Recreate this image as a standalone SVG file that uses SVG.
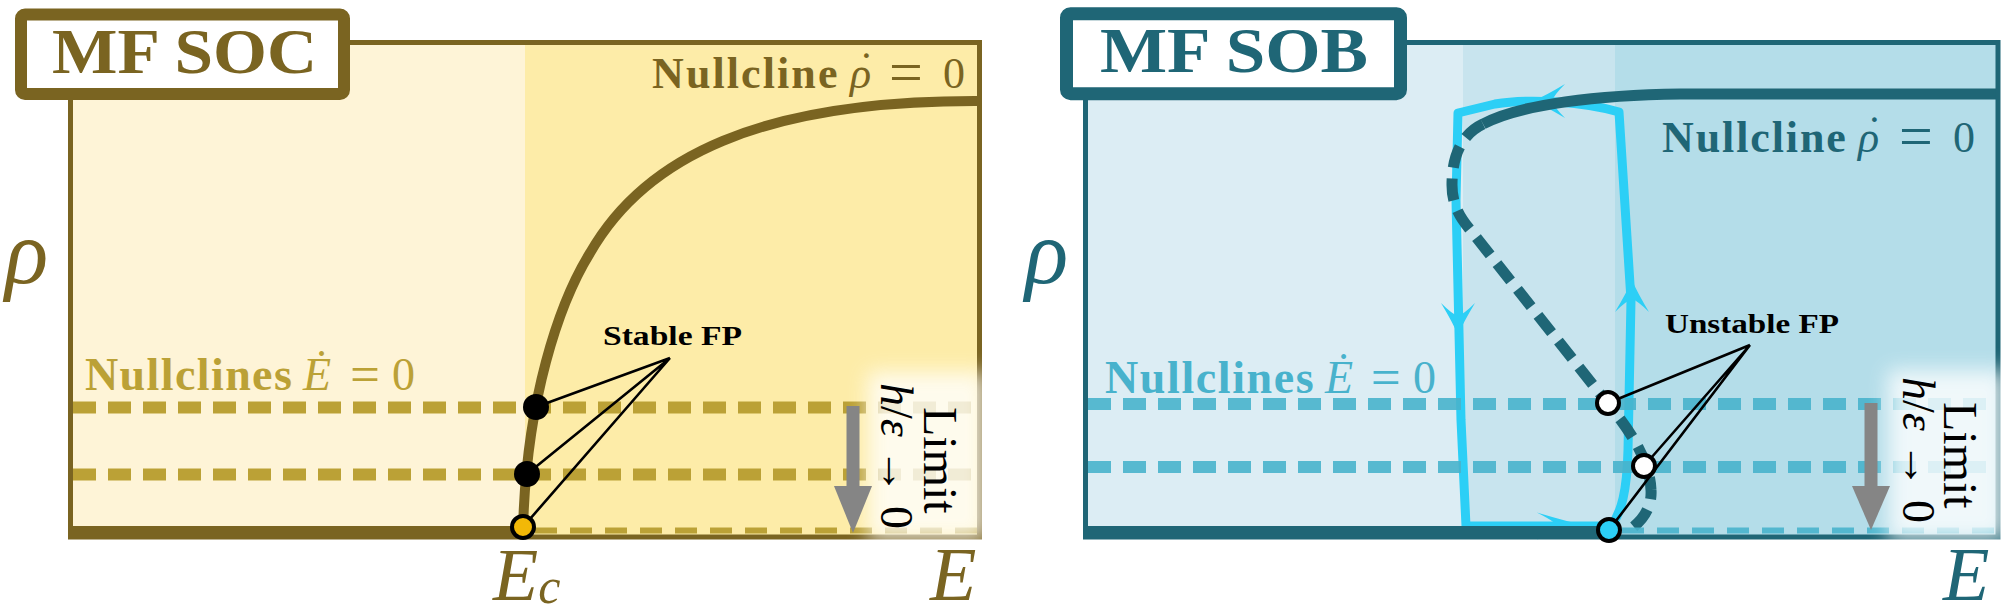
<svg xmlns="http://www.w3.org/2000/svg" width="2008" height="612" viewBox="0 0 2008 612">
<defs>
<style>
.t{font-family:"Liberation Serif","Times New Roman",serif}
.it{font-style:italic}
.up{font-style:normal}
.bd{font-weight:bold}
.olive{fill:#7a6421}
.teal{fill:#1f6676}
.gold{fill:#bba136}
.aqua{fill:#48b2cc}
.frameS{fill:none;stroke:#7a6421;stroke-width:5}
.frameB{fill:none;stroke:#1f6676;stroke-width:5}
.dS{fill:none;stroke:#bba136;stroke-width:12;stroke-dasharray:23 12}
.dSb{fill:none;stroke:#bba136;stroke-width:6;stroke-dasharray:22 13}
.dB{fill:none;stroke:#48b2cc;stroke-width:12;stroke-dasharray:23 12;opacity:.9}
.dBb{fill:none;stroke:#48b2cc;stroke-width:6;stroke-dasharray:22 13;opacity:.9}
.ptr{fill:none;stroke:#000;stroke-width:2.6}
.gray{fill:#858585}
.glow{fill:#fff;opacity:.8}
</style>
<filter id="blur" x="-50%" y="-50%" width="200%" height="200%"><feGaussianBlur stdDeviation="10"/></filter>
<path id="ah" d="M0,0 Q-12,-5 -32,-17 Q-21,-6 -19,0 Q-21,6 -32,17 Q-12,5 0,0 Z"/>
</defs>
<rect width="2008" height="612" fill="#ffffff"/>

<g id="panel-soc">
  <rect x="70" y="42.5" width="455" height="494.5" fill="#fef4d7"/>
  <rect x="525" y="42.5" width="455" height="494.5" fill="#fdeca8"/>
  <path class="frameS" d="M344,42.5 H979.5 V537 H70.5 V94"/>
  <g id="soc-rho-nullcline">
    <path d="M70,531 H523 C526,400 559,303 590,253 C644.5,157.4 760,100 980,101" fill="none" stroke="#7a6421" stroke-width="10" stroke-linejoin="round"/>
  </g>
  <g id="soc-E-nullclines">
    <path class="dS" d="M73,407.5 H978"/>
    <path class="dS" d="M73,474.5 H978"/>
    <path class="dSb" d="M535,530.5 H978"/>
  </g>
  <rect class="glow" x="868" y="372" width="118" height="168" filter="url(#blur)"/>
  <g id="soc-limit-arrow">
    <rect class="gray" x="846.5" y="406" width="13" height="84"/>
    <polygon class="gray" points="834,486 872,486 853,533"/>
  </g>
  <g id="soc-title">
    <rect x="21" y="14.5" width="323" height="79.5" rx="4" fill="#ffffff" stroke="#7a6421" stroke-width="12"/>
    <text class="t bd olive" x="52" y="73" font-size="64" textLength="265" lengthAdjust="spacingAndGlyphs">MF SOC</text>
  </g>
  <g id="soc-pointers">
    <path class="ptr" d="M670,358 L536,407 M670,358 L527,474 M670,358 L523,527"/>
    <circle cx="536" cy="407" r="13" fill="#000"/>
    <circle cx="527" cy="474" r="13" fill="#000"/>
    <circle cx="523" cy="527" r="11" fill="#f2b807" stroke="#000" stroke-width="4"/>
    <text class="t bd" x="603" y="345" font-size="28" textLength="139" lengthAdjust="spacingAndGlyphs" fill="#000">Stable FP</text>
  </g>
  <text id="soc-rho-label" class="t olive" font-size="44"><tspan class="bd" x="652" y="88" letter-spacing="2.1">Nullcline</tspan><tspan class="it" x="850" y="88">ρ</tspan><tspan x="859" y="83">˙</tspan><tspan x="889" y="92" font-size="60">=</tspan><tspan x="943" y="88">0</tspan></text>
  <text id="soc-E-label" class="t gold" font-size="46"><tspan class="bd" x="85" y="390" letter-spacing="1.4">Nullclines</tspan><tspan class="it" x="303" y="390">Ė</tspan><tspan x="350" y="392" font-size="53">=</tspan><tspan x="392" y="390">0</tspan></text>
  <text class="t it olive" x="5" y="283" font-size="90">ρ</text>
  <text class="t it olive" x="493" y="600" font-size="74">E<tspan font-size="50" dy="3">c</tspan></text>
  <text class="t it olive" x="930" y="600" font-size="76">E</text>
  <g id="soc-limit-text">
    <text class="t" transform="translate(924,407) rotate(90)" font-size="48" fill="#000">Limit</text>
    <text class="t" transform="translate(881,383) rotate(90)" font-size="46" fill="#000"><tspan class="it">h</tspan>/<tspan class="it">ε</tspan> → 0</text>
  </g>
</g>

<g id="panel-sob">
  <rect x="1085.5" y="42.5" width="378" height="494.5" fill="#dcedf4"/>
  <rect x="1463" y="42.5" width="152" height="494.5" fill="#c8e4ee"/>
  <rect x="1615" y="42.5" width="383" height="494.5" fill="#b4dde9"/>
  <g id="sob-trajectory">
    <path d="M1610,528 C1622,512 1627,490 1628,450 L1631,300 L1619,112 C1585,102 1530,98 1495,104 L1458,113 L1456,200 L1461,420 L1466,526 L1608,526" fill="none" stroke="#2ccff6" stroke-width="9" stroke-linejoin="round"/>
    <use href="#ah" fill="#2ccff6" transform="translate(1458,335) rotate(90)"/>
    <use href="#ah" fill="#2ccff6" transform="translate(1632,280) rotate(-90)"/>
    <use href="#ah" fill="#2ccff6" transform="translate(1533,101) rotate(180)"/>
    <use href="#ah" fill="#2ccff6" transform="translate(1588,526) scale(1.6,0.8)"/>
  </g>
  <g id="sob-rho-nullcline">
    <path d="M1998,94 L1680,94 C1600,95 1520,104 1483,124" fill="none" stroke="#1f6676" stroke-width="11"/>
    <path d="M1483,124 C1462,134 1452,155 1452,185 C1452,205 1460,218 1472,232 L1605,400 C1630,430 1650,460 1651,490 C1652,505 1645,518 1632,528" fill="none" stroke="#1f6676" stroke-width="11" stroke-dasharray="22 11"/>
    <path d="M1085,531 H1608" fill="none" stroke="#1f6676" stroke-width="10"/>
  </g>
  <g id="sob-E-nullclines">
    <path class="dB" d="M1088,404 H1996"/>
    <path class="dB" d="M1088,467 H1996"/>
    <path class="dBb" d="M1622,530.5 H1996"/>
  </g>
  <path class="frameB" d="M1400.5,42.5 H1998 V537 H1085.5 V93.7"/>
  <rect class="glow" x="1888" y="370" width="118" height="170" filter="url(#blur)"/>
  <g id="sob-limit-arrow">
    <rect class="gray" x="1864.5" y="403" width="13" height="87"/>
    <polygon class="gray" points="1852,486 1890,486 1871,530"/>
  </g>
  <g id="sob-title">
    <rect x="1066.5" y="13.7" width="334" height="80" rx="4" fill="#ffffff" stroke="#1f6676" stroke-width="13"/>
    <text class="t bd teal" x="1100" y="72" font-size="64" textLength="268" lengthAdjust="spacingAndGlyphs">MF SOB</text>
  </g>
  <g id="sob-pointers">
    <path class="ptr" d="M1750,345 L1608,403 M1750,345 L1644,466 M1750,345 L1609,530"/>
    <circle cx="1608" cy="403" r="11" fill="#fff" stroke="#000" stroke-width="4"/>
    <circle cx="1644" cy="466" r="11" fill="#fff" stroke="#000" stroke-width="4"/>
    <circle cx="1609" cy="530" r="11" fill="#2ccff6" stroke="#000" stroke-width="4"/>
    <text class="t bd" x="1665" y="333" font-size="28" textLength="174" lengthAdjust="spacingAndGlyphs" fill="#000">Unstable FP</text>
  </g>
  <text id="sob-rho-label" class="t teal" font-size="44"><tspan class="bd" x="1662" y="152" letter-spacing="1.9">Nullcline</tspan><tspan class="it" x="1858" y="152">ρ</tspan><tspan x="1867" y="147">˙</tspan><tspan x="1899" y="156" font-size="60">=</tspan><tspan x="1953" y="152">0</tspan></text>
  <text id="sob-E-label" class="t aqua" font-size="46"><tspan class="bd" x="1105" y="393" letter-spacing="1.6">Nullclines</tspan><tspan class="it" x="1325" y="393">Ė</tspan><tspan x="1371" y="395" font-size="53">=</tspan><tspan x="1413" y="393">0</tspan></text>
  <text class="t it teal" x="1025" y="283" font-size="90">ρ</text>
  <text class="t it teal" x="1943" y="600" font-size="76">E</text>
  <g id="sob-limit-text">
    <text class="t" transform="translate(1944,402) rotate(90)" font-size="48" fill="#000">Limit</text>
    <text class="t" transform="translate(1903,377) rotate(90)" font-size="46" fill="#000"><tspan class="it">h</tspan>/<tspan class="it">ε</tspan> → 0</text>
  </g>
</g>
</svg>
